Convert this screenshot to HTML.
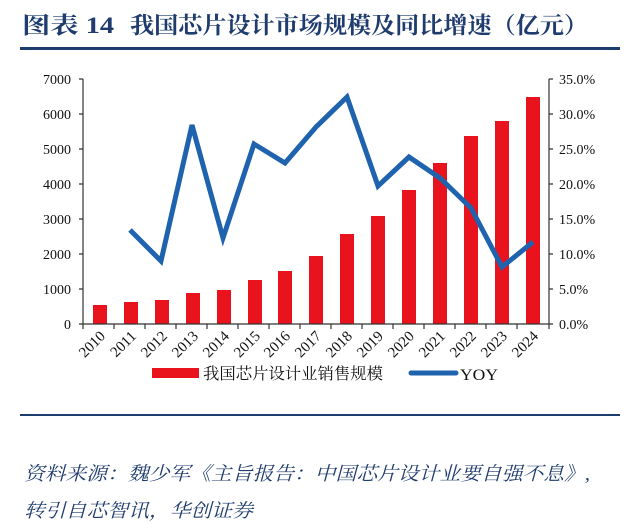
<!DOCTYPE html>
<html><head><meta charset="utf-8"><style>
body{margin:0;background:#fff;}
svg{display:block;}
</style></head><body>
<svg width="640" height="525" xmlns="http://www.w3.org/2000/svg">
<rect width="640" height="525" fill="#fff"/>
<g font-family="'Liberation Serif','Noto Serif CJK SC',serif" font-weight="bold" font-size="23" fill="#1f3c6e">
<text x="22" y="33" textLength="92" lengthAdjust="spacingAndGlyphs">图表 14</text>
<text x="130" y="33" textLength="458" lengthAdjust="spacingAndGlyphs">我国芯片设计市场规模及同比增速（亿元）</text>
</g>
<rect x="20" y="47" width="600" height="3" fill="#1f3c6e"/>
<g font-family="'Liberation Serif',serif" font-size="14" fill="#111">
<g text-anchor="end">
<text x="71" y="329">0</text><text x="71" y="294">1000</text><text x="71" y="259">2000</text><text x="71" y="224">3000</text><text x="71" y="189">4000</text><text x="71" y="154">5000</text><text x="71" y="119">6000</text><text x="71" y="84">7000</text>
</g>
<g text-anchor="start">
<text x="559" y="329">0.0%</text><text x="559" y="294">5.0%</text><text x="559" y="259">10.0%</text><text x="559" y="224">15.0%</text><text x="559" y="189">20.0%</text><text x="559" y="154">25.0%</text><text x="559" y="119">30.0%</text><text x="559" y="84">35.0%</text>
</g>
</g>
<g fill="#e8131c">
<rect x="93" y="305" width="14" height="19"/>
<rect x="124" y="302" width="14" height="22"/>
<rect x="155" y="300" width="14" height="24"/>
<rect x="186" y="293" width="14" height="31"/>
<rect x="217" y="290" width="14" height="34"/>
<rect x="248" y="280" width="14" height="44"/>
<rect x="278" y="271" width="14" height="53"/>
<rect x="309" y="256" width="14" height="68"/>
<rect x="340" y="234" width="14" height="90"/>
<rect x="371" y="216" width="14" height="108"/>
<rect x="402" y="190" width="14" height="134"/>
<rect x="433" y="163" width="14" height="161"/>
<rect x="464" y="136" width="14" height="188"/>
<rect x="495" y="121" width="14" height="203"/>
<rect x="526" y="97" width="14" height="227"/>
</g>
<g stroke="#333" stroke-width="1.2" fill="none">
<path d="M83 79V324H549V79"/>
<path d="M79 79H83M79 114H83M79 149H83M79 184H83M79 219H83M79 254H83M79 289H83M79 324H83"/>
<path d="M549 79H553M549 114H553M549 149H553M549 184H553M549 219H553M549 254H553M549 289H553M549 324H553"/>
<path d="M83 324v5M114 324v5M145 324v5M176 324v5M207 324v5M238 324v5M269 324v5M300 324v5M331 324v5M362 324v5M393 324v5M424 324v5M455 324v5M486 324v5M517 324v5M549 324v5"/>
</g>
<polyline fill="none" stroke="#1f63ae" stroke-width="5" stroke-linejoin="miter" points="130,230 161,261 192,125 223,238 254,144 285,163 316,127 347,97 378,186 409,157 440,178 471,208 502,267 533,242"/>
<g font-family="'Liberation Serif',serif" font-size="15" fill="#111" text-anchor="end">
<text transform="translate(106,337) rotate(-45)">2010</text>
<text transform="translate(137,337) rotate(-45)">2011</text>
<text transform="translate(168,337) rotate(-45)">2012</text>
<text transform="translate(199,337) rotate(-45)">2013</text>
<text transform="translate(230,337) rotate(-45)">2014</text>
<text transform="translate(261,337) rotate(-45)">2015</text>
<text transform="translate(291,337) rotate(-45)">2016</text>
<text transform="translate(322,337) rotate(-45)">2017</text>
<text transform="translate(353,337) rotate(-45)">2018</text>
<text transform="translate(384,337) rotate(-45)">2019</text>
<text transform="translate(415,337) rotate(-45)">2020</text>
<text transform="translate(446,337) rotate(-45)">2021</text>
<text transform="translate(477,337) rotate(-45)">2022</text>
<text transform="translate(508,337) rotate(-45)">2023</text>
<text transform="translate(539,337) rotate(-45)">2024</text>
</g>
<rect x="152" y="368" width="47" height="10" fill="#e8131c"/>
<text x="203" y="379" font-family="'Liberation Serif','Noto Serif CJK SC',serif" font-size="16" fill="#111" textLength="180" lengthAdjust="spacingAndGlyphs">我国芯片设计业销售规模</text>
<line x1="411" y1="373" x2="456" y2="373" stroke="#1f63ae" stroke-width="5" stroke-linecap="round"/>
<text x="460" y="380" font-family="'Liberation Serif',serif" font-size="16" fill="#111" textLength="38" lengthAdjust="spacingAndGlyphs">YOY</text>
<rect x="20" y="414" width="600" height="2" fill="#1f3c6e"/>
<g font-family="'Liberation Serif','Noto Serif CJK SC',serif" font-size="19" font-style="italic" fill="#1f3c6e">
<text x="24" y="480" textLength="566" lengthAdjust="spacingAndGlyphs">资料来源：魏少军《主旨报告：中国芯片设计业要自强不息》,</text>
<text x="24" y="517" textLength="229" lengthAdjust="spacingAndGlyphs">转引自芯智讯，华创证券</text>
</g>
</svg>
</body></html>
